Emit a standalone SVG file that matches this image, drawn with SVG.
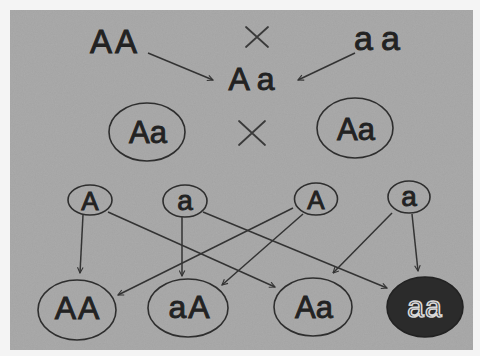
<svg xmlns="http://www.w3.org/2000/svg" width="480" height="356" viewBox="0 0 480 356">
  <style>
    .lbl { font-family: "Liberation Sans", Arial, sans-serif; fill: #222; text-anchor: middle; stroke: #222; stroke-width: 0.9; }
    .ring { fill: none; stroke: #2e2e2e; stroke-width: 1.6; }
    .link { stroke: #333; stroke-width: 1.5; fill: none; marker-end: url(#tip); }
    .cross { stroke: #3a3a3a; stroke-width: 1.8; stroke-linecap: round; }
  </style>
  <defs>
    <marker id="tip" viewBox="0 0 10 10" refX="9" refY="5" markerWidth="7" markerHeight="7" orient="auto" markerUnits="userSpaceOnUse">
      <path d="M1,1 L9,5 L1,9" fill="none" stroke="#333" stroke-width="1.6"/>
    </marker>
    <filter id="grain" x="0" y="0" width="100%" height="100%">
      <feTurbulence type="fractalNoise" baseFrequency="0.9" numOctaves="2" seed="4" result="n"/>
      <feColorMatrix in="n" type="matrix" values="0 0 0 0 0.6  0 0 0 0 0.6  0 0 0 0 0.6  0 0 0 0.35 0"/>
    </filter>
  </defs>

  <!-- paper -->
  <rect x="0" y="0" width="480" height="356" fill="#f4f4f4"/>
  <rect x="10" y="10" width="463" height="340" fill="#a3a3a3"/>
  <rect x="10" y="10" width="463" height="340" filter="url(#grain)" opacity="0.6"/>

  <!-- parents -->
  <g id="parent-AA"><text class="lbl" x="115" y="53" font-size="33" letter-spacing="3">AA</text></g>
  <g id="cross-top"><path class="cross" d="M246,27 L268,47 M246,47 L268,27"/></g>
  <g id="parent-aa"><text class="lbl" x="381" y="50" font-size="34" letter-spacing="8">aa</text></g>
  <g id="f1-Aa"><text class="lbl" x="255" y="90" font-size="32" letter-spacing="7">Aa</text></g>

  <!-- F1 cross -->
  <g id="f1-left">
    <ellipse class="ring" cx="147" cy="132" rx="38" ry="29"/>
    <text class="lbl" x="148" y="143" font-size="31">Aa</text>
  </g>
  <g id="cross-mid"><path class="cross" d="M239,121 L265,145 M239,145 L265,121"/></g>
  <g id="f1-right">
    <ellipse class="ring" cx="355" cy="128" rx="38" ry="30"/>
    <text class="lbl" x="356" y="140" font-size="31">Aa</text>
  </g>

  <!-- gametes -->
  <g id="gamete-A1">
    <ellipse class="ring" cx="90" cy="200" rx="22" ry="15"/>
    <text class="lbl" x="90" y="210" font-size="26">A</text>
  </g>
  <g id="gamete-a2">
    <ellipse class="ring" cx="185" cy="201" rx="22" ry="16"/>
    <text class="lbl" x="185" y="210" font-size="28">a</text>
  </g>
  <g id="gamete-A3">
    <ellipse class="ring" cx="316" cy="199" rx="21.5" ry="16"/>
    <text class="lbl" x="316" y="209" font-size="26">A</text>
  </g>
  <g id="gamete-a4">
    <ellipse class="ring" cx="409" cy="197" rx="21" ry="16"/>
    <text class="lbl" x="409" y="206" font-size="28">a</text>
  </g>

  <!-- offspring -->
  <g id="child-AA">
    <ellipse class="ring" cx="77" cy="310" rx="39" ry="30"/>
    <text class="lbl" x="78" y="319" font-size="32" letter-spacing="2">AA</text>
  </g>
  <g id="child-aA">
    <ellipse class="ring" cx="188" cy="308" rx="40" ry="29"/>
    <text class="lbl" x="190" y="318" font-size="32" letter-spacing="2">aA</text>
  </g>
  <g id="child-Aa">
    <ellipse class="ring" cx="313" cy="307" rx="39" ry="29"/>
    <text class="lbl" x="314" y="318" font-size="31">Aa</text>
  </g>
  <g id="child-aa">
    <ellipse cx="425" cy="307" rx="38" ry="30" fill="#2b2b2b" stroke="#222" stroke-width="1.6"/>
    <text x="425" y="317" font-size="30" font-family="Liberation Sans, Arial, sans-serif" text-anchor="middle" fill="none" stroke="#d8d8d8" stroke-width="1.6" letter-spacing="1">aa</text>
  </g>

  <!-- connectors -->
  <g id="connectors">
    <line class="link" x1="148" y1="53" x2="213" y2="80"/>
    <line class="link" x1="355" y1="53" x2="298" y2="80"/>
    <line class="link" x1="83" y1="215" x2="80" y2="273"/>
    <line class="link" x1="108" y1="212" x2="275" y2="287"/>
    <line class="link" x1="182" y1="217" x2="182" y2="276"/>
    <line class="link" x1="203" y1="212" x2="387" y2="288"/>
    <line class="link" x1="293" y1="208" x2="118" y2="295"/>
    <line class="link" x1="303" y1="214" x2="222" y2="285"/>
    <line class="link" x1="392" y1="213" x2="333" y2="273"/>
    <line class="link" x1="412" y1="214" x2="418" y2="271"/>
  </g>
</svg>
